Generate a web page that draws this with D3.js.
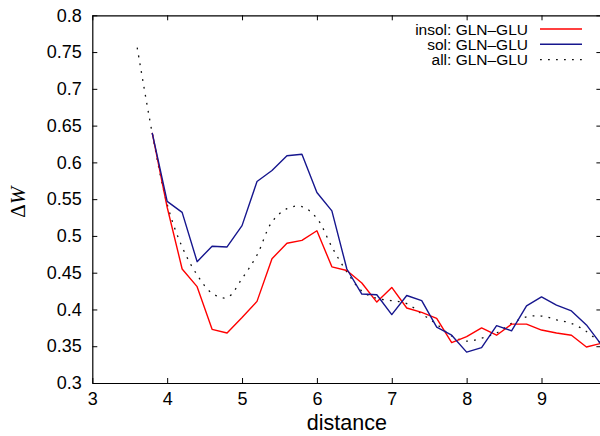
<!DOCTYPE html>
<html>
<head>
<meta charset="utf-8">
<script src="https://cdn.jsdelivr.net/npm/d3@7"></script>
<style>
  html, body { margin: 0; padding: 0; background: #fff; }
  svg { display: block; }
  text { font-family: "Liberation Sans", Arial, sans-serif; fill: #000; }
</style>
</head>
<body>
<script>
// Distances sampled for the insoluble / soluble series
const distance = [3.8, 4.0, 4.2, 4.4, 4.6, 4.8, 5.0, 5.2, 5.4, 5.6, 5.8, 6.0, 6.2, 6.4, 6.6, 6.8,
                  7.0, 7.2, 7.4, 7.6, 7.8, 8.0, 8.2, 8.4, 8.6, 8.8, 9.0, 9.2, 9.4, 9.6, 9.8];
const insol = [0.640, 0.539, 0.455, 0.431, 0.373, 0.368, 0.389, 0.411, 0.469, 0.490, 0.494, 0.507,
               0.458, 0.453, 0.436, 0.410, 0.430, 0.402, 0.396, 0.388, 0.355, 0.363, 0.375, 0.365,
               0.380, 0.380, 0.372, 0.368, 0.365, 0.349, 0.354];
const sol = [0.640, 0.547, 0.532, 0.465, 0.486, 0.485, 0.514, 0.574, 0.589, 0.609, 0.611, 0.559,
             0.534, 0.455, 0.421, 0.420, 0.393, 0.419, 0.412, 0.376, 0.365, 0.342, 0.348, 0.378,
             0.371, 0.405, 0.417, 0.406, 0.398, 0.379, 0.352];
// Combined set (smoothed curve)
const distanceAll = [3.6, 3.8, 4.0, 4.2, 4.4, 4.6, 4.8, 5.0, 5.2, 5.4, 5.6, 5.8, 6.0, 6.2, 6.4, 6.6,
                     6.8, 7.0, 7.2, 7.4, 7.6, 7.8, 8.0, 8.2, 8.4, 8.6, 8.8, 9.0, 9.2, 9.4, 9.6, 9.8];
const all = [0.756, 0.640, 0.543, 0.485, 0.447, 0.422, 0.416, 0.442, 0.474, 0.519, 0.537, 0.540,
             0.524, 0.485, 0.451, 0.425, 0.415, 0.412, 0.408, 0.394, 0.380, 0.364, 0.357, 0.361,
             0.368, 0.381, 0.390, 0.391, 0.386, 0.381, 0.370, 0.353];

const xTicks = [3, 4, 5, 6, 7, 8, 9];
const yTicks = [0.3, 0.35, 0.4, 0.45, 0.5, 0.55, 0.6, 0.65, 0.7, 0.75, 0.8];
const seriesNames = ["insol: GLN\u2013GLU", "sol: GLN\u2013GLU", "all: GLN\u2013GLU"];

const W = 600, H = 436;
const plot = { left: 92.3, right: 601.4, top: 15.3, bottom: 383 };

const svg = d3.select("body").append("svg")
  .attr("width", W).attr("height", H);

const x = d3.scaleLinear().domain([3, 9.8]).range([plot.left, plot.right]);
const y = d3.scaleLinear().domain([0.3, 0.8]).range([plot.bottom, plot.top]);

const fmt = d => String(+d.toFixed(2));
const tickFont = "18px";

// Bottom axis with labels
const gB = svg.append("g").attr("transform", `translate(0,${plot.bottom})`)
  .call(d3.axisBottom(x).tickValues(xTicks).tickFormat(fmt).tickSize(-5).tickSizeOuter(0).tickPadding(9.7));
// Left axis with labels
const gL = svg.append("g").attr("transform", `translate(${plot.left},0)`)
  .call(d3.axisLeft(y).tickValues(yTicks).tickFormat(fmt).tickSize(-5).tickSizeOuter(0).tickPadding(10.5));
// Mirrored ticks on top and right
const gT = svg.append("g").attr("transform", `translate(0,${plot.top})`)
  .call(d3.axisTop(x).tickValues(xTicks).tickFormat("").tickSize(-5).tickSizeOuter(0));
const gR = svg.append("g").attr("transform", `translate(${plot.right},0)`)
  .call(d3.axisRight(y).tickValues(yTicks).tickFormat("").tickSize(-5).tickSizeOuter(0));

[gB, gL, gT, gR].forEach(g => {
  g.selectAll("text").style("font-size", tickFont).attr("font-family", "Liberation Sans, Arial, sans-serif").attr("fill", "#000");
  g.selectAll("line").attr("stroke", "#000").attr("stroke-width", 1);
  g.select(".domain").attr("stroke", "#000").attr("stroke-width", 1.2);
});

// Axis titles
svg.append("text")
  .attr("x", (plot.left + plot.right) / 2).attr("y", 430)
  .attr("text-anchor", "middle").style("font-size", "21.5px")
  .text("distance");

const yl = svg.append("text")
  .attr("transform", `translate(25,${(plot.top + plot.bottom) / 2 + 3}) rotate(-90)`)
  .attr("text-anchor", "middle")
  .style("font-family", "'Liberation Serif', 'Times New Roman', serif")
  .style("font-size", "21px");
yl.append("tspan").text("\u0394");
yl.append("tspan").style("font-style", "italic").style("font-family", "'Liberation Serif', serif").text("W");

// Series lines
const clip = svg.append("clipPath").attr("id", "plotclip").append("rect")
  .attr("x", plot.left).attr("y", plot.top)
  .attr("width", plot.right - plot.left).attr("height", plot.bottom - plot.top);

const lineGen = d3.line().x(d => x(d[0])).y(d => y(d[1]));
const smoothGen = d3.line().x(d => x(d[0])).y(d => y(d[1])).curve(d3.curveCatmullRom.alpha(0.5));

const series = [
  { name: seriesNames[0], pts: d3.zip(distance, insol), color: "#ff0000", width: 1.4, dash: null, gen: lineGen },
  { name: seriesNames[1], pts: d3.zip(distance, sol), color: "#16168e", width: 1.4, dash: null, gen: lineGen },
  { name: seriesNames[2], pts: d3.zip(distanceAll, all), color: "#111", width: 1.3, dash: "1.8,6.2", gen: smoothGen }
];

const gLines = svg.append("g").attr("clip-path", "url(#plotclip)");
// draw dotted first, then red, then blue
[series[2], series[0], series[1]].forEach(s => {
  gLines.append("path")
    .attr("d", s.gen(s.pts))
    .attr("fill", "none")
    .attr("stroke", s.color)
    .attr("stroke-width", s.width)
    .attr("stroke-dasharray", s.dash)
    .attr("stroke-linejoin", "round");
});

// Legend
const legY = [29, 44.3, 59.6];
const legend = svg.append("g");
series.forEach((s, i) => {
  legend.append("text")
    .attr("x", 528).attr("y", legY[i] + 5.8)
    .attr("text-anchor", "end").style("font-size", "15.5px")
    .text(s.name);
  legend.append("line")
    .attr("x1", 540).attr("x2", 582)
    .attr("y1", legY[i]).attr("y2", legY[i])
    .attr("stroke", s.color).attr("stroke-width", s.width)
    .attr("stroke-dasharray", s.dash);
});
</script>
</body>
</html>
